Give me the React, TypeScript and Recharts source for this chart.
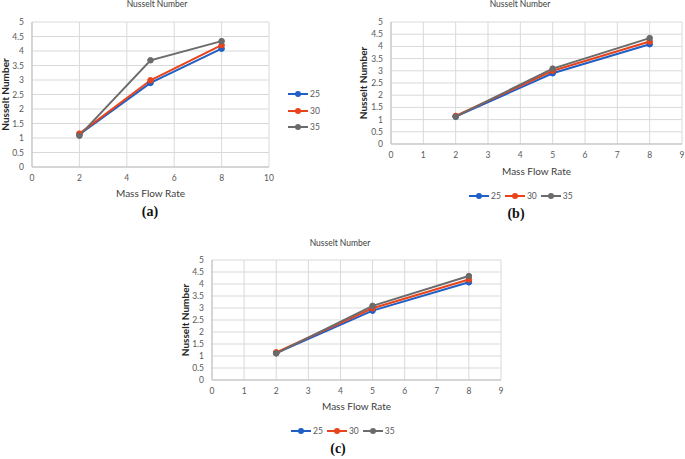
import { CartesianGrid, Label, Line, LineChart, XAxis, YAxis } from 'recharts'

// shared x positions (mass flow rate)
const massFlow = [2, 5, 8]

// panel (a)
const a25 = [1.12, 2.9, 4.08]
const a30 = [1.15, 2.99, 4.2]
const a35 = [1.08, 3.68, 4.34]

// panel (b)
const b25 = [1.12, 2.9, 4.09]
const b30 = [1.15, 3.0, 4.2]
const b35 = [1.12, 3.09, 4.34]

// panel (c)
const c25 = [1.12, 2.89, 4.07]
const c30 = [1.15, 2.99, 4.19]
const c35 = [1.11, 3.09, 4.33]

const yTicks = [0, 0.5, 1, 1.5, 2, 2.5, 3, 3.5, 4, 4.5, 5]
const xTicksA = [0, 2, 4, 6, 8, 10]
const xTicksB = [0, 1, 2, 3, 4, 5, 6, 7, 8, 9]

const seriesNames = ['25', '30', '35']
const colors = ['#1f5fc6', '#e8431a', '#6b6b6b']

const FONT = 'Lato, "Open Sans", sans-serif'
const tick = { fontSize: 8.5, fill: '#595959', fontFamily: FONT }

function rows(s25: number[], s30: number[], s35: number[]) {
  return massFlow.map((x, i) => ({ x, s25: s25[i], s30: s30[i], s35: s35[i] }))
}

interface PanelProps {
  data: { x: number; s25: number; s30: number; s35: number }[]
  left: number
  top: number
  width: number
  height: number
  margin: { top: number; right: number; left: number; bottom: number }
  yWidth: number
  yLabelOffset: number
  xHeight: number
  xTicks: number[]
}

function Panel({ data, left, top, width, height, margin, yWidth, yLabelOffset, xHeight, xTicks }: PanelProps) {
  const keys = ['s25', 's30', 's35']
  return (
    <div style={{ position: 'absolute', left, top }}>
      <LineChart width={width} height={height} data={data} margin={margin}>
        <CartesianGrid stroke="#d9d9d9" strokeWidth={1} />
        <XAxis
          dataKey="x" type="number" domain={[xTicks[0], xTicks[xTicks.length - 1]]} ticks={xTicks}
          tick={tick} tickLine={false} axisLine={{ stroke: '#bfbfbf' }} height={xHeight} interval={0}
        >
          <Label value="Mass Flow Rate" position="insideBottom" offset={5}
            style={{ fontSize: 10, fill: '#404040', fontFamily: FONT }} />
        </XAxis>
        <YAxis
          type="number" domain={[0, 5]} ticks={yTicks} tick={tick} tickLine={false}
          axisLine={{ stroke: '#bfbfbf' }} width={yWidth} interval={0}
        >
          <Label value="Nusselt Number" angle={-90} position="insideLeft" offset={yLabelOffset}
            style={{ fontSize: 10, fill: '#262626', fontWeight: 700, fontFamily: FONT, textAnchor: 'middle' }} />
        </YAxis>
        {keys.map((k, i) => (
          <Line key={k} dataKey={k} name={seriesNames[i]} stroke={colors[i]} strokeWidth={2}
            dot={{ r: 2.8, fill: colors[i], stroke: colors[i], strokeWidth: 1 }} isAnimationActive={false} />
        ))}
      </LineChart>
    </div>
  )
}

function Title({ cx, cy, text }: { cx: number; cy: number; text: string }) {
  return (
    <div style={{ position: 'absolute', left: cx - 100, top: cy - 6, width: 200, lineHeight: '12px',
      textAlign: 'center', fontSize: 8.5, color: '#404040', fontFamily: FONT }}>{text}</div>
  )
}

function SubLabel({ cx, cy, text }: { cx: number; cy: number; text: string }) {
  return (
    <div style={{ position: 'absolute', left: cx - 30, top: cy - 9, width: 60, lineHeight: '18px',
      textAlign: 'center', fontSize: 14, fontWeight: 700, color: '#111', fontFamily: '"Liberation Serif", "DejaVu Serif", serif' }}>{text}</div>
  )
}

function LegendItem({ i }: { i: number }) {
  return (
    <div style={{ display: 'flex', alignItems: 'center', height: 12 }}>
      <svg width={20} height={8}>
        <line x1={0} y1={4} x2={20} y2={4} stroke={colors[i]} strokeWidth={2} />
        <circle cx={10} cy={4} r={3} fill={colors[i]} />
      </svg>
      <span style={{ fontSize: 8.5, color: '#595959', fontFamily: FONT, marginLeft: 2 }}>{seriesNames[i]}</span>
    </div>
  )
}

function VLegend({ left, top }: { left: number; top: number }) {
  return (
    <div style={{ position: 'absolute', left, top, display: 'flex', flexDirection: 'column', gap: 4.5 }}>
      {seriesNames.map((_, i) => <LegendItem key={i} i={i} />)}
    </div>
  )
}

function HLegend({ left, cy }: { left: number; cy: number }) {
  return (
    <div style={{ position: 'absolute', left, top: cy - 6, display: 'flex', gap: 4 }}>
      {seriesNames.map((_, i) => <LegendItem key={i} i={i} />)}
    </div>
  )
}

export default function App() {
  return (
    <div style={{ position: 'absolute', left: 0, top: 0, width: 685, height: 459, background: '#fff', overflow: 'hidden' }}>
      <Panel data={rows(a25, a30, a35)} left={0} top={0} width={340} height={202}
        margin={{ top: 22, right: 71, left: 0, bottom: 0 }} yWidth={32} yLabelOffset={5} xHeight={35} xTicks={xTicksA} />
      <Title cx={157} cy={4} text="Nusselt Number" />
      <VLegend left={288} top={88} />
      <SubLabel cx={150} cy={212} text="(a)" />

      <Panel data={rows(b25, b30, b35)} left={340} top={0} width={345} height={180}
        margin={{ top: 22, right: 3, left: 23, bottom: 0 }} yWidth={28} yLabelOffset={0} xHeight={36} xTicks={xTicksB} />
      <Title cx={520} cy={4} text="Nusselt Number" />
      <HLegend left={469} cy={196} />
      <SubLabel cx={516} cy={214} text="(b)" />

      <Panel data={rows(c25, c30, c35)} left={170} top={230} width={345} height={185}
        margin={{ top: 30, right: 14, left: 15, bottom: 0 }} yWidth={27} yLabelOffset={0} xHeight={35} xTicks={xTicksB} />
      <Title cx={340} cy={243} text="Nusselt Number" />
      <HLegend left={291} cy={431} />
      <SubLabel cx={338} cy={449} text="(c)" />
    </div>
  )
}
